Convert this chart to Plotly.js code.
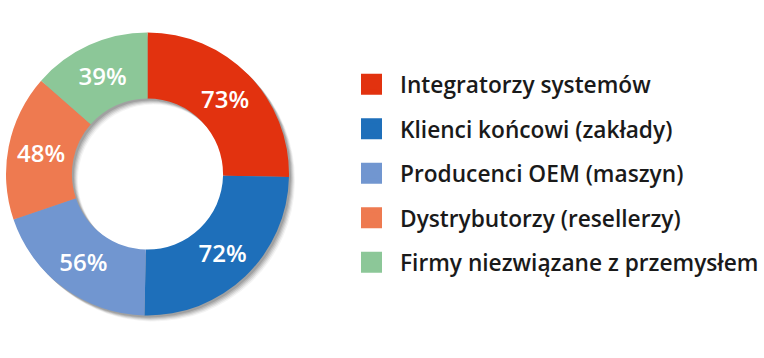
<!DOCTYPE html>
<html>
<head>
<meta charset="utf-8">
<script src="https://cdn.plot.ly/plotly-3.0.1.min.js"></script>
<style>html,body{margin:0;padding:0;background:#fff;}#chart{width:764px;height:358px;}</style>
</head>
<body>
<div id="chart"></div>
<script>
const categories = ["Integratorzy systemów", "Klienci końcowi (zakłady)", "Producenci OEM (maszyn)", "Dystrybutorzy (resellerzy)", "Firmy niezwiązane z przemysłem"];
const values = [73, 72, 56, 48, 39];
const colors = ["#E2320F", "#1E6FBA", "#7196D0", "#EE7A50", "#8CC798"];

const W = 764, H = 358;
const cx = 147.5, cy = 174, R = 141.5;
function dom(dx, dy) {
  return {
    x: [(cx - R + dx) / W, (cx + R + dx) / W],
    y: [1 - (cy + R + dy) / H, 1 - (cy - R + dy) / H]
  };
}
const FONT = '"Open Sans", "Noto Sans", sans-serif';
const traces = [];
// soft shadow layers
const shadowLayers = [[6, 6, 0.06], [5, 5, 0.09], [4, 4, 0.12], [3, 3, 0.15], [2, 2, 0.18]];
shadowLayers.forEach(function (s) {
  traces.push({
    type: 'pie', values: values, labels: categories, sort: false, direction: 'clockwise', rotation: 0,
    hole: 0.534, domain: dom(s[0], s[1]), textinfo: 'none', showlegend: false, hoverinfo: 'skip',
    marker: {colors: categories.map(function () { return 'rgba(60,60,60,' + s[2] + ')'; }), line: {width: 0}}
  });
});
traces.push({
  type: 'pie', values: values, labels: categories, sort: false, direction: 'clockwise', rotation: 0,
  hole: 0.534, domain: dom(0, 0), showlegend: false,
  marker: {colors: colors, line: {width: 0}},
  texttemplate: '%{value}%', textposition: 'inside', insidetextorientation: 'horizontal',
  textfont: {family: FONT, size: 24, color: '#ffffff', weight: 600}
});
categories.forEach(function (c, i) {
  traces.push({
    type: 'scatter', mode: 'markers', x: [null], y: [null], name: c, legendgroup: 'g' + i,
    marker: {symbol: 'square', size: 16, color: colors[i], line: {color: colors[i], width: 5}},
    hoverinfo: 'skip'
  });
});

const layout = {
  width: W, height: H,
  margin: {l: 0, r: 0, t: 0, b: 0},
  paper_bgcolor: '#ffffff', plot_bgcolor: '#ffffff',
  xaxis: {visible: false, domain: [0.99, 1]}, yaxis: {visible: false, domain: [0.99, 1]},
  showlegend: true,
  legend: {
    x: 343 / W, xanchor: 'left', y: 1 - 63 / H, yanchor: 'top',
    font: {family: FONT, size: 22.7, color: '#1a1a1a', weight: 600},
    itemwidth: 47, tracegroupgap: 12, traceorder: 'grouped', bgcolor: 'rgba(0,0,0,0)', borderwidth: 0
  }
};
Plotly.newPlot('chart', traces, layout, {displayModeBar: false, staticPlot: true});
</script>
</body>
</html>
